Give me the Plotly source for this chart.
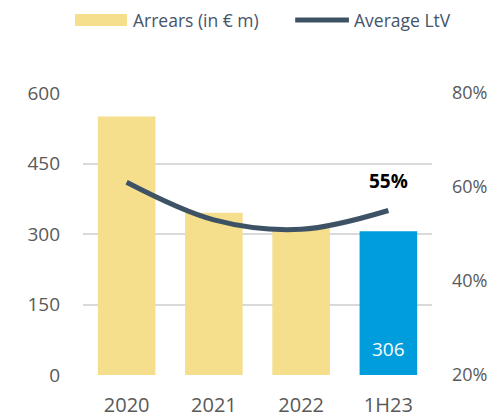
import plotly.graph_objects as go

periods = ['2020', '2021', '2022', '1H23']
arrears = [550, 345, 312, 306]
ltv = [61, 53, 51, 55]
ltv_ticks = [20, 40, 60, 80]
ltv_ticktext = ['20%', '40%', '60%', '80%']

bar_colors = ['#F5DE8C', '#F5DE8C', '#F5DE8C', '#009DDC']

FONT = 'Open Sans'
TICK = '#595959'
LINE = '#3E5266'

fig = go.Figure()
fig.add_trace(go.Bar(
    x=periods, y=arrears, name='Arrears (in € m)',
    marker=dict(color=bar_colors, line=dict(width=0)),
    width=0.66, showlegend=False, hoverinfo='skip'))
fig.add_trace(go.Scatter(
    x=periods, y=ltv, name='Average LtV', yaxis='y2',
    mode='lines', line=dict(color=LINE, width=5, shape='spline', smoothing=1.0),
    showlegend=False))

# value labels
fig.add_annotation(x=periods[-1], y=ltv[-1], yref='y2', text='<b>55%</b>',
                   showarrow=False, yanchor='bottom', yshift=15,
                   font=dict(family=FONT, size=19, color='black'))
fig.add_annotation(x=periods[-1], y=0, text=str(arrears[-1]),
                   showarrow=False, yanchor='bottom', yshift=11,
                   font=dict(family=FONT, size=19, color='white'))

# legend drawn by hand
fig.add_shape(type='rect', xref='paper', yref='paper', x0=-0.023, x1=0.126,
              y0=1.238, y1=1.280, fillcolor='#F5DE8C', line=dict(width=0))
fig.add_annotation(xref='paper', yref='paper', x=0.138, y=1.259, text='Arrears (in € m)',
                   showarrow=False, xanchor='left', yanchor='middle',
                   font=dict(family=FONT, size=17.5, color='#44546A'))
fig.add_shape(type='line', xref='paper', yref='paper', x0=0.608, x1=0.762,
              y0=1.259, y1=1.259, line=dict(color=LINE, width=5))
fig.add_annotation(xref='paper', yref='paper', x=0.77, y=1.259, text='Average LtV',
                   showarrow=False, xanchor='left', yanchor='middle',
                   font=dict(family=FONT, size=17.5, color='#44546A'))

fig.update_layout(
    width=489, height=409,
    margin=dict(l=75, r=65, t=85, b=42, autoexpand=False),
    plot_bgcolor='white', paper_bgcolor='white',
    font=dict(family=FONT, color=TICK),
    xaxis=dict(showgrid=False, showline=False, ticks='', ticklabelstandoff=16,
               automargin=False,
               tickfont=dict(family=FONT, size=20, color=TICK)),
    yaxis=dict(range=[0, 600], tickvals=[0, 150, 300, 450, 600],
               showgrid=True, gridcolor='#D9D9D9', gridwidth=1.5, zeroline=False,
               showline=False, ticklabelstandoff=22, automargin=False,
               tickfont=dict(family=FONT, size=19, color=TICK)),
    yaxis2=dict(range=[20, 80], tickmode='array', tickvals=ltv_ticks,
                ticktext=ltv_ticktext, automargin=False,
                overlaying='y', side='right', showgrid=False, zeroline=False,
                showline=False, ticklabelstandoff=19,
                tickfont=dict(family=FONT, size=18, color=TICK)),
)

fig.write_html('out.html')
